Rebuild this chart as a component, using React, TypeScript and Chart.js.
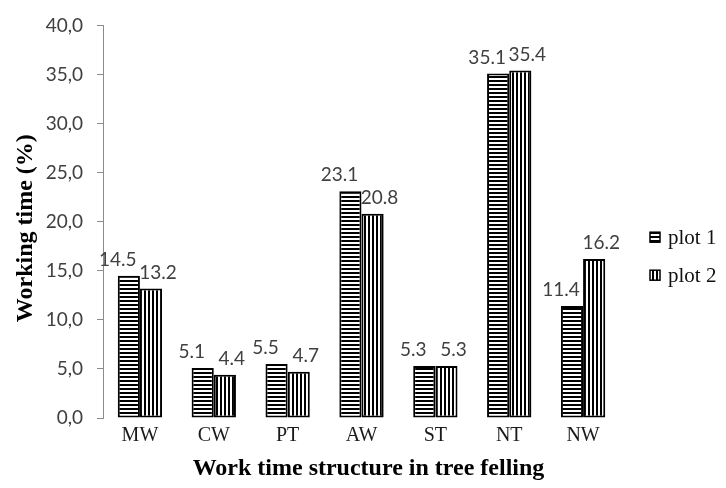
import { useEffect, useRef } from "react";
import { Chart, registerables } from "chart.js";

Chart.register(...registerables);

const categories = ["MW", "CW", "PT", "AW", "ST", "NT", "NW"];
const plot1 = [14.5, 5.1, 5.5, 23.1, 5.3, 35.1, 11.4];
const plot2 = [13.2, 4.4, 4.7, 20.8, 5.3, 35.4, 16.2];
const seriesNames = ["plot 1", "plot 2"];
const yMin = 0;
const yMax = 40;
const yStep = 5;
const xTitle = "Work time structure in tree felling";
const yTitle = "Working time (%)";

const W = 726;
const H = 488;

function makePattern(ctx: CanvasRenderingContext2D, kind: "h" | "v") {
  const c = document.createElement("canvas");
  c.width = 4;
  c.height = 4;
  const g = c.getContext("2d")!;
  g.fillStyle = "#ffffff";
  g.fillRect(0, 0, 4, 4);
  g.fillStyle = "#000000";
  if (kind === "h") g.fillRect(0, 0, 4, 2);
  else g.fillRect(0, 0, 2, 4);
  return ctx.createPattern(c, "repeat")!;
}

export default function App() {
  const ref = useRef<HTMLCanvasElement | null>(null);

  useEffect(() => {
    const canvas = ref.current!;
    const ctx = canvas.getContext("2d")!;
    const patH = makePattern(ctx, "h");
    const patV = makePattern(ctx, "v");
    const patterns = [patH, patV];

    const labelsPlugin = {
      id: "extras",
      afterDatasetsDraw(chart: any) {
        const c = chart.ctx as CanvasRenderingContext2D;
        const area = chart.chartArea;
        c.save();
        // data labels
        c.font = "19px Lato";
        c.fillStyle = "#404040";
        c.textAlign = "center";
        c.textBaseline = "middle";
        chart.data.datasets.forEach((ds: any, i: number) => {
          const meta = chart.getDatasetMeta(i);
          meta.data.forEach((bar: any, j: number) => {
            const v = ds.data[j] as number;
            const dx = i === 0 ? -11 : 7;
            c.fillText(v.toFixed(1), bar.x + dx, bar.y - 16);
          });
        });
        // legend
        const mid = (area.top + area.bottom) / 2;
        const lx = area.right + 30;
        const ys = [mid + 15.5, mid + 53.5];
        chart.data.datasets.forEach((ds: any, i: number) => {
          const y = ys[i];
          c.fillStyle = patterns[i];
          c.fillRect(lx, y - 5, 10, 10);
          c.strokeStyle = "#000";
          c.lineWidth = 1.5;
          c.strokeRect(lx, y - 5, 10, 10);
          c.fillStyle = "#111";
          c.font = "21px 'Liberation Serif'";
          c.textAlign = "left";
          c.textBaseline = "middle";
          c.fillText(ds.label, lx + 18, y + 1);
        });
        // axis titles
        c.fillStyle = "#000";
        c.font = "bold 24px 'Liberation Serif'";
        c.textAlign = "center";
        c.textBaseline = "middle";
        c.fillText(xTitle, (area.left + area.right) / 2 + 7, 469);
        c.save();
        c.translate(26, mid + 6.5);
        c.rotate(-Math.PI / 2);
        c.fillText(yTitle, 0, 0);
        c.restore();
        c.restore();
      },
    };

    const chart = new Chart(canvas, {
      type: "bar",
      data: {
        labels: categories,
        datasets: [
          {
            label: seriesNames[0],
            data: plot1,
            backgroundColor: patH as any,
            borderColor: "#000000",
            borderWidth: 2,
            borderSkipped: false,
          },
          {
            label: seriesNames[1],
            data: plot2,
            backgroundColor: patV as any,
            borderColor: "#000000",
            borderWidth: 2,
            borderSkipped: false,
          },
        ],
      },
      options: {
        responsive: false,
        animation: false,
        maintainAspectRatio: false,
        layout: { padding: { left: 0, right: 106, top: 25, bottom: 0 } },
        datasets: {
          bar: { categoryPercentage: 0.6, barPercentage: 1.0 },
        },
        plugins: {
          legend: { display: false },
          tooltip: { enabled: false },
          title: { display: false },
        },
        scales: {
          x: {
            type: "category",
            offset: true,
            grid: { display: false, drawTicks: false },
            border: { display: false },
            ticks: {
              padding: 6,
              color: "#1a1a1a",
              font: { family: "'Liberation Serif'", size: 20 },
            },
            afterFit(scale: any) {
              scale.height = 70;
            },
          },
          y: {
            min: yMin,
            max: yMax,
            ticks: {
              stepSize: yStep,
              padding: 14,
              color: "#404040",
              font: { family: "Lato", size: 19 },
              callback: (v: any) => Number(v).toFixed(1).replace(".", ","),
            },
            grid: {
              display: true,
              drawOnChartArea: false,
              drawTicks: true,
              tickLength: 6,
              color: "#8c8c8c",
            },
            border: { display: true, color: "#8c8c8c", width: 1 },
            afterFit(scale: any) {
              scale.width = 103;
            },
          },
        },
      },
      plugins: [labelsPlugin],
    });
    return () => chart.destroy();
  }, []);

  return (
    <div style={{ position: "absolute", left: 0, top: 0, width: W, height: H, background: "#fff" }}>
      <canvas ref={ref} width={W} height={H} style={{ width: W, height: H, display: "block" }} />
    </div>
  );
}
